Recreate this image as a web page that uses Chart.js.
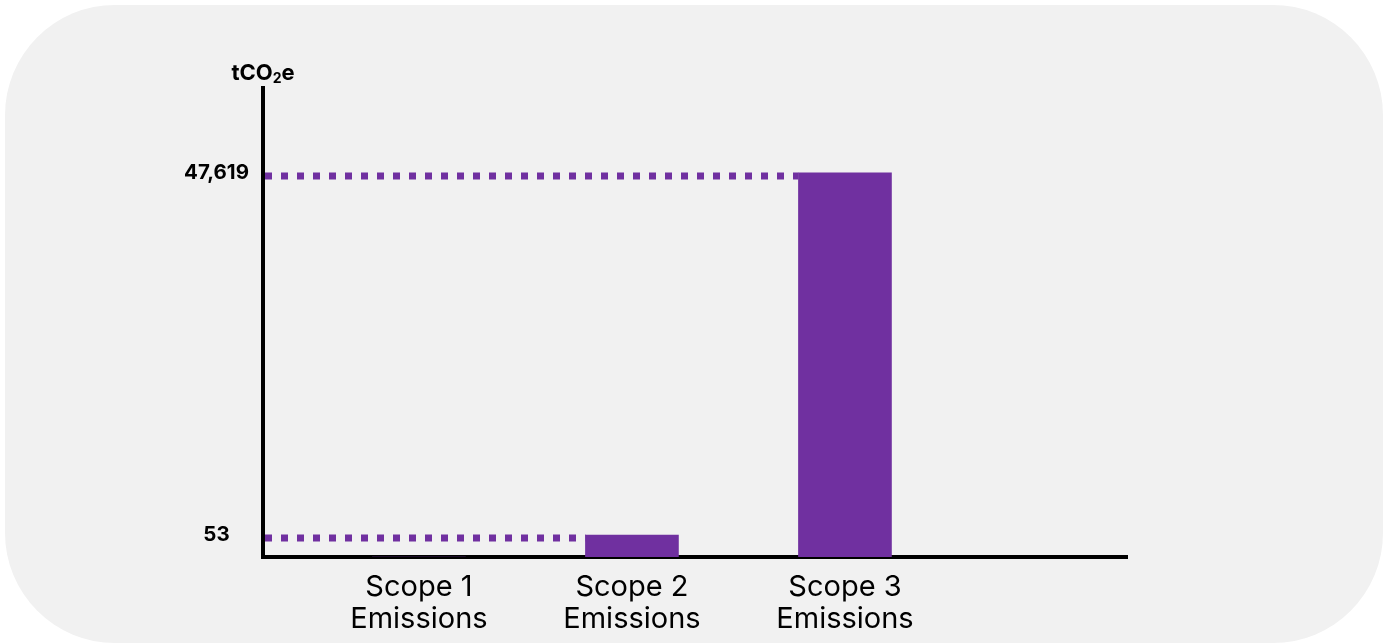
<!DOCTYPE html>
<html>
<head>
<meta charset="utf-8">
<script src="https://cdn.jsdelivr.net/npm/chart.js@4.4.1/dist/chart.umd.min.js"></script>
<style>
  html, body { margin: 0; padding: 0; background: #ffffff; }
  #wrap { position: relative; width: 1390px; height: 644px; overflow: hidden; }
  #bg { position: absolute; left: 5px; top: 5px; width: 1378px; height: 638px; border-radius: 110px; background: #f1f1f1; }
  #chart { position: absolute; left: 0; top: 0; }
</style>
</head>
<body>
<div id="wrap">
  <div id="bg"></div>
  <canvas id="chart" width="1390" height="644"></canvas>
</div>
<script>
// data
const categories = [['Scope 1', 'Emissions'], ['Scope 2', 'Emissions'], ['Scope 3', 'Emissions']];
const emissions = [0, 53, 47619];
const yTicks = [53, 47619];
const unitLabel = 'tCO2e';

const purple = '#7030a0';
const fontFamily = 'Inter, "Open Sans", sans-serif';

// dotted guide lines from the y axis to each bar
const guideLines = {
    id: 'guideLines',
    beforeDatasetsDraw(chart) {
        const ctx = chart.ctx;
        const y = chart.scales.y;
        const meta = chart.getDatasetMeta(0);
        const left = chart.chartArea.left + 2;
        ctx.save();
        ctx.strokeStyle = purple;
        ctx.lineWidth = 7;
        ctx.setLineDash([7, 9]);
        emissions.forEach(function (v, i) {
            if (!yTicks.includes(v)) return;
            const bar = meta.data[i];
            const py = y.getPixelForValue(v) + 3;
            ctx.beginPath();
            ctx.moveTo(left, py);
            ctx.lineTo(bar.x - bar.width / 2, py);
            ctx.stroke();
        });
        ctx.restore();
    },
    afterDraw(chart) {
        // unit label with subscript
        const ctx = chart.ctx;
        const cx = chart.chartArea.left;
        const cy = 72;
        ctx.save();
        ctx.fillStyle = '#000';
        ctx.textBaseline = 'alphabetic';
        const big = 'bold 22px ' + fontFamily;
        const small = 'bold 14px ' + fontFamily;
        ctx.font = big;
        const w1 = ctx.measureText('tCO').width;
        const w3 = ctx.measureText('e').width;
        ctx.font = small;
        const w2 = ctx.measureText('2').width;
        let x = cx - (w1 + w2 + w3) / 2;
        ctx.font = big;
        ctx.fillText('tCO', x, cy + 8);
        x += w1;
        ctx.font = small;
        ctx.fillText('2', x, cy + 11);
        x += w2;
        ctx.font = big;
        ctx.fillText('e', x, cy + 8);
        ctx.restore();
    }
};

const barData = {
    datasets: [{
        label: unitLabel,
        backgroundColor: purple,
        borderWidth: 0,
        barThickness: 93,
        data: emissions.map(function (v, i) { return {x: i + 1, y: v}; })
    }]
};

new Chart(document.getElementById('chart').getContext('2d'), {
    type: 'bar',
    data: barData,
    plugins: [guideLines],
    options: {
        responsive: false,
        animation: false,
        layout: {padding: {left: 153, top: 88, right: 263, bottom: 7}},
        plugins: {legend: {display: false}, tooltip: {enabled: false}},
        scales: {
            x: {
                type: 'linear',
                offset: false,
                min: 0.268,
                max: 4.324,
                grid: {display: false, drawTicks: false, offset: false},
                border: {display: true, color: '#000', width: 4},
                afterBuildTicks: function (scale) {
                    scale.ticks = categories.map(function (c, i) { return {value: i + 1}; });
                },
                afterFit: function (scale) { scale.height = 80; },
                ticks: {
                    color: '#000',
                    padding: 14,
                    maxRotation: 0,
                    autoSkip: false,
                    font: {family: fontFamily, size: 29, lineHeight: 1.1},
                    callback: function (v) { return categories[v - 1]; }
                }
            },
            y: {
                type: 'logarithmic',
                min: 35.1,
                max: 234600,
                grid: {display: false, drawTicks: false},
                border: {display: true, color: '#000', width: 4},
                afterBuildTicks: function (scale) {
                    scale.ticks = yTicks.map(function (v) { return {value: v}; });
                },
                afterFit: function (scale) { scale.width = 110; },
                ticks: {
                    color: '#000',
                    crossAlign: 'center',
                    padding: 14,
                    autoSkip: false,
                    font: {family: fontFamily, size: 20.5, weight: 'bold'},
                    callback: function (v) { return v.toLocaleString('en-US'); }
                }
            }
        }
    }
});
</script>
</body>
</html>
